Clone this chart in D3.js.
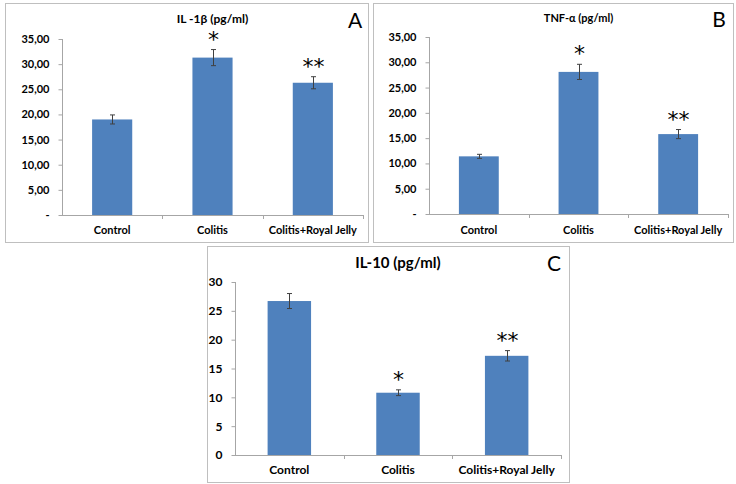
<!DOCTYPE html>
<html>
<head>
<meta charset="utf-8">
<script src="https://cdn.jsdelivr.net/npm/d3@7"></script>
<style>
  body { margin: 0; background: #fff; }
  svg { display: block; }
  text { font-family: Lato, "Open Sans", sans-serif; fill: #000; }
</style>
</head>
<body>
<svg id="chart" width="736" height="484"></svg>
<script>
const categories = ["Control", "Colitis", "Colitis+Royal Jelly"];

const il1bValues = [19.0, 31.3, 26.3];
const il1bErrors = [0.9, 1.6, 1.2];
const tnfValues = [11.4, 28.1, 15.8];
const tnfErrors = [0.4, 1.5, 0.9];
const il10Values = [26.7, 10.8, 17.2];
const il10Errors = [1.3, 0.5, 0.9];

const marks = ["", "*", "**"];
const commaTicks = [0, 5, 10, 15, 20, 25, 30, 35];
const intTicks = [0, 5, 10, 15, 20, 25, 30];

const barColor = "#4f81bd";
const svg = d3.select("#chart");

const fmtComma = (d) => (d === 0 ? "-" : d3.format(".2f")(d).replace(".", ","));

const panels = [
  { title: "IL -1β (pg/ml)", letter: "A", values: il1bValues, errors: il1bErrors,
    box: [5, 3, 368, 242], x0: 62, x1: 363, yTop: 39, yBot: 215, max: 35,
    ticks: commaTicks, fmt: fmtComma, titleSize: 12, labelSize: 11, titleY: 19, labelY: 230,
    letterX: 355, letterY: 28 },
  { title: "TNF-α (pg/ml)", letter: "B", values: tnfValues, errors: tnfErrors,
    box: [373, 3, 733, 242], x0: 429, x1: 728, yTop: 37, yBot: 214, max: 35,
    ticks: commaTicks, fmt: fmtComma, titleSize: 11, labelSize: 11, titleY: 18, labelY: 230,
    letterX: 719, letterY: 27 },
  { title: "IL-10 (pg/ml)", letter: "C", values: il10Values, errors: il10Errors,
    box: [207, 246, 569, 482], x0: 235, x1: 561, yTop: 282, yBot: 455, max: 30,
    ticks: intTicks, fmt: (d) => d, titleSize: 15, labelSize: 12, titleY: 263, labelY: 470,
    letterX: 554, letterY: 271 }
];

panels.forEach((p) => {
  const g = svg.append("g");

  // frame
  g.append("rect")
    .attr("x", p.box[0] + 0.5)
    .attr("y", p.box[1] + 0.5)
    .attr("width", p.box[2] - p.box[0])
    .attr("height", p.box[3] - p.box[1])
    .style("fill", "#fff")
    .style("stroke", "#bfbfbf");

  const x = d3.scaleBand()
    .domain(categories)
    .range([p.x0, p.x1])
    .paddingInner(0.6)
    .paddingOuter(0.3);
  const y = d3.scaleLinear().domain([0, p.max]).range([p.yBot, p.yTop]);

  // y axis
  const yAxis = g.append("g")
    .attr("transform", `translate(${p.x0 + 0.5},0)`)
    .call(d3.axisLeft(y).tickValues(p.ticks).tickFormat(p.fmt).tickSize(4).tickPadding(9));
  yAxis.select(".domain").attr("stroke", "#a6a6a6").attr("d", `M-0,${p.yTop}V${p.yBot}`);
  yAxis.selectAll(".tick line").attr("stroke", "#a6a6a6");
  yAxis.selectAll(".tick text")
    .style("font-family", "Lato, sans-serif")
    .style("font-weight", "bold")
    .style("font-size", p.labelSize + "px")
    .attr("fill", "#000");

  // x axis line with boundary ticks
  const step = x.step();
  const bounds = d3.range(categories.length + 1).map((i) => p.x0 + i * step);
  g.append("line")
    .attr("x1", p.x0).attr("x2", p.x1)
    .attr("y1", p.yBot + 0.5).attr("y2", p.yBot + 0.5)
    .style("stroke", "#a6a6a6");
  g.selectAll(".xtick")
    .data(bounds.slice(1))
    .enter()
    .append("line")
    .attr("x1", (d) => Math.round(d) + 0.5).attr("x2", (d) => Math.round(d) + 0.5)
    .attr("y1", p.yBot).attr("y2", p.yBot + 4)
    .style("stroke", "#a6a6a6");

  // bars
  g.selectAll(".bar")
    .data(p.values)
    .enter()
    .append("rect")
    .attr("x", (d, i) => x(categories[i]))
    .attr("y", (d) => y(d))
    .attr("width", x.bandwidth())
    .attr("height", (d) => y(0) - y(d))
    .style("fill", barColor);

  // error bars
  const cx = (i) => Math.round(x(categories[i]) + x.bandwidth() / 2) + 0.5;
  const eb = g.selectAll(".err")
    .data(p.values)
    .enter()
    .append("g")
    .style("stroke", "#404040")
    .style("stroke-width", 1);
  eb.append("line")
    .attr("x1", (d, i) => cx(i)).attr("x2", (d, i) => cx(i))
    .attr("y1", (d, i) => y(d + p.errors[i])).attr("y2", (d, i) => y(d - p.errors[i]));
  eb.append("line")
    .attr("x1", (d, i) => cx(i) - 2.5).attr("x2", (d, i) => cx(i) + 2.5)
    .attr("y1", (d, i) => y(d + p.errors[i])).attr("y2", (d, i) => y(d + p.errors[i]));
  eb.append("line")
    .attr("x1", (d, i) => cx(i) - 2.5).attr("x2", (d, i) => cx(i) + 2.5)
    .attr("y1", (d, i) => y(d - p.errors[i])).attr("y2", (d, i) => y(d - p.errors[i]));

  // significance marks
  g.selectAll(".mark")
    .data(p.values)
    .enter()
    .append("text")
    .attr("x", (d, i) => cx(i))
    .attr("y", (d, i) => y(d + p.errors[i]) - 3)
    .attr("text-anchor", "middle")
    .style("font-family", "DejaVu Sans, sans-serif")
    .style("font-size", "22px")
    .text((d, i) => marks[i]);

  // category labels
  g.selectAll(".xlabel")
    .data(categories)
    .enter()
    .append("text")
    .attr("x", (d) => x(d) + x.bandwidth() / 2)
    .attr("y", p.labelY)
    .attr("dy", "0.35em")
    .attr("text-anchor", "middle")
    .style("font-weight", "bold")
    .style("font-size", p.labelSize + "px")
    .text((d) => d);

  // title
  g.append("text")
    .attr("x", (p.x0 + p.x1) / 2)
    .attr("y", p.titleY)
    .attr("dy", "0.35em")
    .attr("text-anchor", "middle")
    .style("font-weight", "bold")
    .style("font-size", p.titleSize + "px")
    .text(p.title);

  // panel letter
  g.append("text")
    .attr("x", p.letterX)
    .attr("y", p.letterY)
    .attr("text-anchor", "middle")
    .style("font-family", "Lato, sans-serif")
    .style("font-size", "21px")
    .text(p.letter);
});
</script>
</body>
</html>
